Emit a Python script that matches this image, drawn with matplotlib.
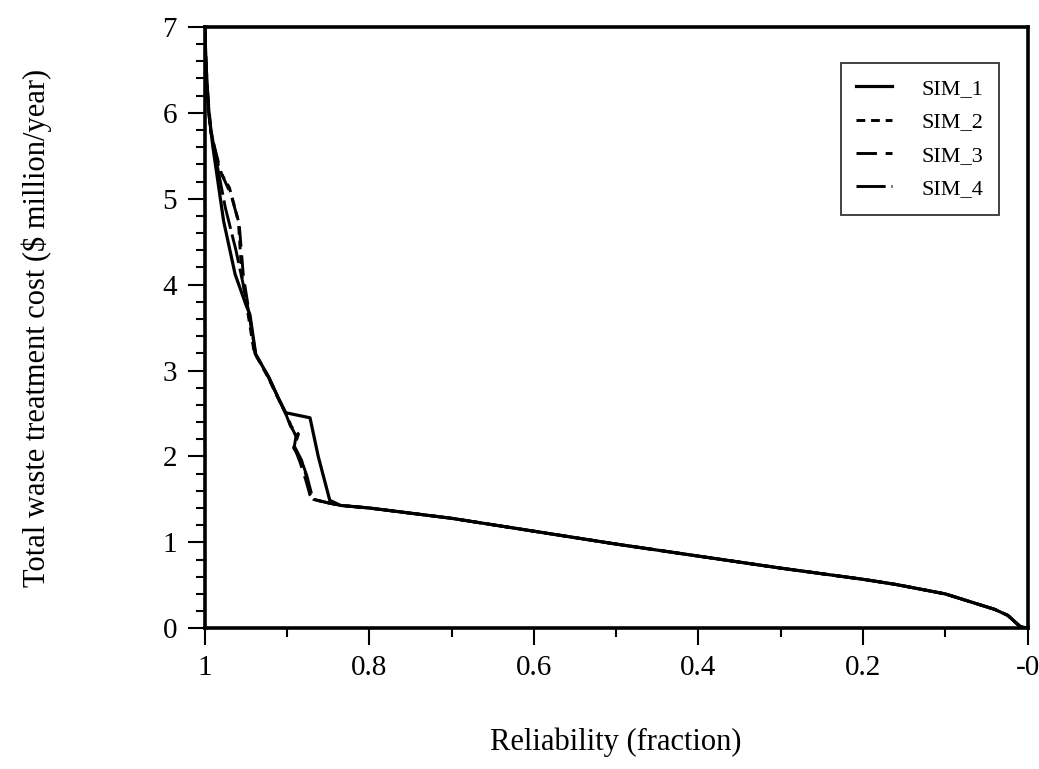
import matplotlib
matplotlib.use('Agg')
import matplotlib.pyplot as plt
from matplotlib.ticker import MultipleLocator, FixedLocator

plt.rcParams['font.family'] = ['Liberation Serif', 'DejaVu Serif']

# lower branch shared by all runs
tail_x = [0.835, 0.8, 0.7, 0.6, 0.5, 0.4, 0.3, 0.2, 0.16, 0.1, 0.07, 0.04, 0.024, 0.009, 0.0]
tail_y = [1.43, 1.40, 1.28, 1.13, 0.98, 0.84, 0.70, 0.57, 0.51, 0.40, 0.31, 0.22, 0.15, 0.02, 0.0]

sim1_x = [1.0, 0.998, 0.995, 0.99, 0.977, 0.963, 0.95, 0.945, 0.938, 0.922, 0.911, 0.902,
          0.872, 0.862, 0.848] + tail_x
sim1_y = [7.0, 6.5, 6.0, 5.6, 4.74, 4.12, 3.77, 3.65, 3.19, 2.92, 2.69, 2.51,
          2.45, 2.0, 1.49] + tail_y

sim2_x = [1.0, 0.998, 0.993, 0.982, 0.970, 0.959, 0.955, 0.948, 0.940, 0.924, 0.912, 0.902,
          0.895, 0.886, 0.892, 0.882, 0.876, 0.871, 0.868, 0.85] + tail_x
sim2_y = [7.0, 6.4, 5.8, 5.33, 5.13, 4.74, 4.12, 3.70, 3.22, 2.94, 2.70, 2.51,
          2.35, 2.26, 2.10, 1.95, 1.75, 1.52, 1.50, 1.46] + tail_y

sim3_x = [1.0, 0.997, 0.992, 0.980, 0.968, 0.958, 0.953, 0.946, 0.939, 0.923, 0.911, 0.901,
          0.894, 0.888, 0.890, 0.884, 0.877, 0.872, 0.869, 0.85] + tail_x
sim3_y = [7.0, 6.3, 5.75, 5.30, 5.05, 4.70, 4.10, 3.68, 3.20, 2.93, 2.69, 2.50,
          2.33, 2.22, 2.08, 1.93, 1.72, 1.55, 1.50, 1.46] + tail_y

sim4_x = [1.0, 0.998, 0.994, 0.986, 0.975, 0.962, 0.952, 0.946, 0.938, 0.922, 0.911, 0.902,
          0.896, 0.889, 0.891, 0.883, 0.876, 0.870, 0.867, 0.85] + tail_x
sim4_y = [7.0, 6.4, 5.9, 5.45, 4.90, 4.40, 3.95, 3.66, 3.19, 2.92, 2.69, 2.51,
          2.36, 2.24, 2.12, 1.97, 1.78, 1.56, 1.50, 1.46] + tail_y

labels = ['SIM_1', 'SIM_2', 'SIM_3', 'SIM_4']
x_ticks = [1.0, 0.8, 0.6, 0.4, 0.2, 0.0]
x_ticklabels = ['1', '0.8', '0.6', '0.4', '0.2', '-0']

fig = plt.figure(figsize=(10.39, 7.69), dpi=100)
ax = fig.add_axes([0.197, 0.183, 0.792, 0.782])

ax.plot(sim1_x, sim1_y, color='black', lw=2.3, ls='-', label=labels[0])
ax.plot(sim2_x, sim2_y, color='black', lw=2.1, ls=(0, (3, 2)), label=labels[1])
ax.plot(sim3_x, sim3_y, color='black', lw=2.1, ls=(0, (7, 3)), label=labels[2])
ax.plot(sim4_x, sim4_y, color='black', lw=2.1, ls=(0, (10, 2)), label=labels[3])

ax.set_xlim(1.0, 0.0)
ax.set_ylim(0, 7)
ax.xaxis.set_major_locator(FixedLocator(x_ticks))
ax.set_xticklabels(x_ticklabels)
ax.xaxis.set_minor_locator(MultipleLocator(0.1))
ax.yaxis.set_major_locator(MultipleLocator(1))
ax.yaxis.set_minor_locator(MultipleLocator(0.2))

ax.tick_params(which='both', direction='out', top=False, right=False, width=1.5, labelsize=21)
ax.tick_params(which='major', length=12)
ax.tick_params(axis='y', which='major', pad=8)
ax.tick_params(axis='x', which='major', pad=7)
ax.tick_params(which='minor', length=6.5)
for s in ax.spines.values():
    s.set_linewidth(2.6)

ax.set_xlabel('Reliability (fraction)', fontsize=22, va='center')
ax.xaxis.set_label_coords(0.5, -0.19)
ax.set_ylabel('Total waste treatment cost ($ million/year)', fontsize=22, va='center')
ax.yaxis.set_label_coords(-0.204, 0.5)

leg = ax.legend(loc='upper right', bbox_to_anchor=(0.965, 0.94), borderaxespad=0,
                fontsize=16, frameon=True, fancybox=False, edgecolor='black',
                handlelength=1.6, handletextpad=1.35, labelspacing=0.58, borderpad=0.69)
leg.get_frame().set_linewidth(1.3)

fig.savefig('out.png', dpi=100)
